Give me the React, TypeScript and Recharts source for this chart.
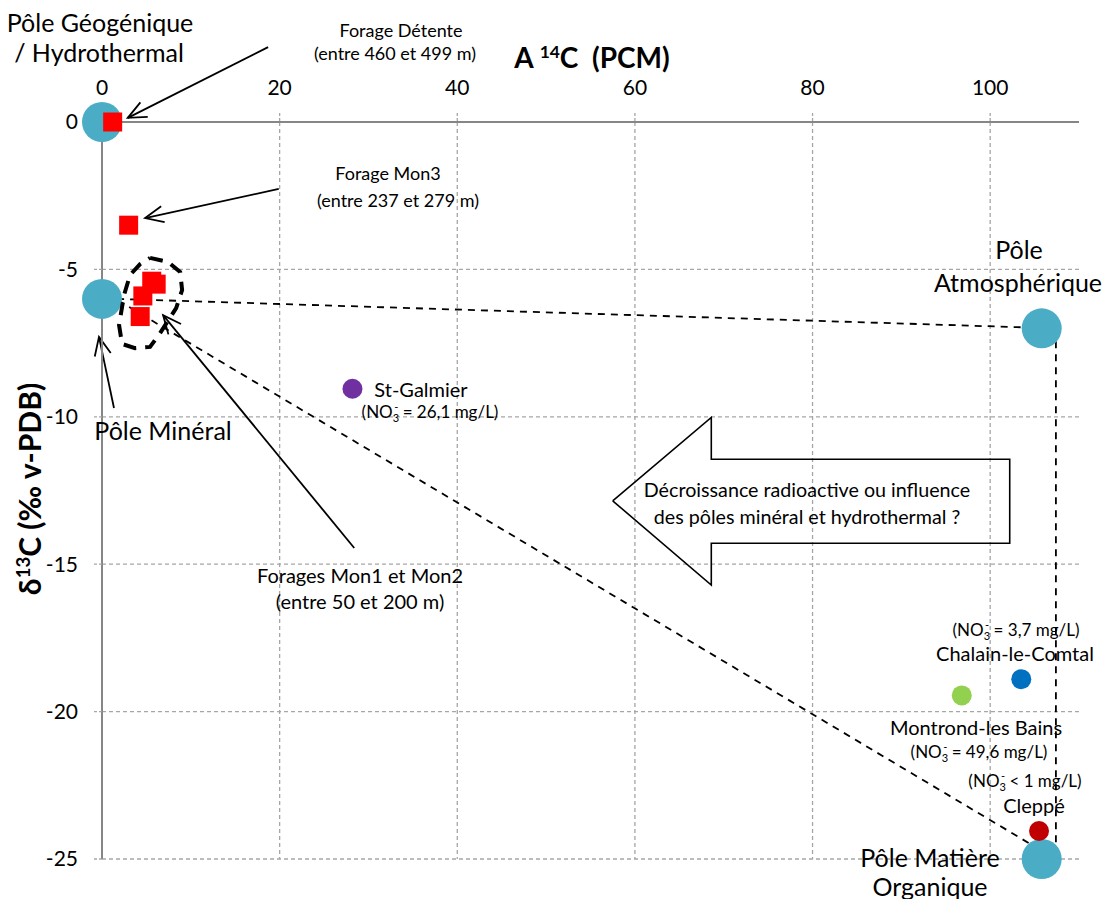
import React from "react";
import {
  ScatterChart,
  Scatter,
  XAxis,
  YAxis,
  CartesianGrid,
  ReferenceLine,
} from "recharts";

const FONT = "Lato, 'Noto Sans', sans-serif";

const xTicks = [0, 20, 40, 60, 80, 100];
const yTicks = [-25, -20, -15, -10, -5, 0];
const xGrid = [20, 40, 60, 80, 100];
const yGrid = [-25, -20, -15, -10, -5];

// pôles (gros cercles)
const poles = [
  { x: 0, y: 0 },
  { x: 0, y: -6 },
  { x: 105.8, y: -7 },
  { x: 105.8, y: -25 },
];

// forages (carrés rouges)
const forages = [
  { x: 1.2, y: 0 },
  { x: 3.0, y: -3.5 },
  { x: 5.6, y: -5.4 },
  { x: 6.1, y: -5.5 },
  { x: 4.6, y: -5.9 },
  { x: 4.3, y: -6.6 },
];

const stGalmier = [{ x: 28.2, y: -9.05 }];
const montrond = [{ x: 96.8, y: -19.45 }];
const chalain = [{ x: 103.5, y: -18.9 }];
const cleppe = [{ x: 105.5, y: -24.05 }];

// droites de mélange (pointillés)
const mixingLines = [
  [{ x: 1.7, y: -6.0 }, { x: 107.4, y: -7.0 }],
  [{ x: 107.4, y: -7.0 }, { x: 107.4, y: -25.0 }],
  [{ x: 1.8, y: -6.05 }, { x: 106.8, y: -24.9 }],
];

// flèches d'annotation
const arrows = [
  [{ x: 18.7, y: 2.54 }, { x: 2.9, y: 0.14 }],
  [{ x: 19.9, y: -2.27 }, { x: 4.85, y: -3.26 }],
  [{ x: 1.35, y: -9.7 }, { x: -0.34, y: -7.29 }],
  [{ x: 28.4, y: -14.45 }, { x: 6.88, y: -6.55 }],
];

// contour pointillé autour des forages Mon1 / Mon2
const cluster = [
  { x: 5.41, y: -4.61 },
  { x: 7.45, y: -4.75 },
  { x: 8.8, y: -5.09 },
  { x: 9.02, y: -5.7 },
  { x: 8.35, y: -6.31 },
  { x: 6.54, y: -7.16 },
  { x: 5.41, y: -7.63 },
  { x: 3.72, y: -7.67 },
  { x: 2.26, y: -7.53 },
  { x: 1.92, y: -6.89 },
  { x: 2.48, y: -5.87 },
  { x: 3.16, y: -5.19 },
  { x: 4.29, y: -4.82 },
  { x: 5.41, y: -4.61 },
];

// grande flèche "Décroissance radioactive..."
const bigArrow = [
  { x: 57.5, y: -12.85 },
  { x: 68.6, y: -10.02 },
  { x: 68.6, y: -11.44 },
  { x: 102.2, y: -11.44 },
  { x: 102.2, y: -14.29 },
  { x: 68.6, y: -14.29 },
  { x: 68.6, y: -15.71 },
  { x: 57.5, y: -12.85 },
];

const dot = (r: number, fill: string) => (p: any) =>
  <circle cx={p.cx} cy={p.cy} r={r} fill={fill} />;

const square = (p: any) => (
  <rect x={p.cx - 9.5} y={p.cy - 9.5} width={19} height={19} fill="#FF0000" />
);

const noShape = () => <g />;

function ArrowShape(props: any) {
  const { x1, y1, x2, y2 } = props;
  const a = Math.atan2(y2 - y1, x2 - x1);
  const len = 20;
  const s = 0.42;
  const p1 = [x2 - len * Math.cos(a - s), y2 - len * Math.sin(a - s)];
  const p2 = [x2 - len * Math.cos(a + s), y2 - len * Math.sin(a + s)];
  return (
    <g stroke="#000" strokeWidth={1.8} fill="none">
      <line x1={x1} y1={y1} x2={x2} y2={y2} />
      <polyline points={`${p1[0]},${p1[1]} ${x2},${y2} ${p2[0]},${p2[1]}`} />
    </g>
  );
}

function Note({
  x,
  y,
  size = 18,
  bold = false,
  children,
}: {
  x: number;
  y: number;
  size?: number;
  bold?: boolean;
  children: React.ReactNode;
}) {
  return (
    <div
      style={{
        position: "absolute",
        left: x,
        top: y,
        transform: "translate(-50%, -50%)",
        fontSize: size,
        fontWeight: bold ? 700 : 400,
        whiteSpace: "pre",
        lineHeight: 1.05,
        color: "#000",
      }}
    >
      {children}
    </div>
  );
}

const NO3 = () => (
  <span>
    NO
    <sub style={{ fontSize: "0.65em", lineHeight: 0 }}>3</sub>
    <sup style={{ fontSize: "0.65em", lineHeight: 0, marginLeft: "-0.45em" }}>-</sup>
  </span>
);

export default function App() {
  return (
    <div
      style={{
        position: "absolute",
        left: 0,
        top: 0,
        width: 1109,
        height: 899,
        background: "#fff",
        fontFamily: FONT,
      }}
    >
      <ScatterChart
        width={1109}
        height={899}
        margin={{ top: 82, right: 30, bottom: 40, left: 42 }}
      >
        <CartesianGrid
          stroke="#A6A6A6"
          strokeWidth={1.3}
          strokeDasharray="4 3"
          verticalValues={xGrid}
          horizontalValues={yGrid}
        />
        <XAxis
          type="number"
          dataKey="x"
          orientation="top"
          domain={[0, 110]}
          ticks={xTicks}
          height={40}
          axisLine={{ stroke: "#868686", strokeWidth: 2 }}
          tickLine={{ stroke: "#A6A6A6", strokeWidth: 1.3, strokeDasharray: "3 2" }}
          tickSize={9}
          tickMargin={18}
          tick={{ fontSize: 21, fill: "#000", fontFamily: FONT }}
        />
        <YAxis
          type="number"
          dataKey="y"
          domain={[-25, 0]}
          ticks={yTicks}
          width={60}
          axisLine={{ stroke: "#868686", strokeWidth: 2 }}
          tickLine={{ stroke: "#A6A6A6", strokeWidth: 1.3, strokeDasharray: "3 2" }}
          tickSize={8}
          tickMargin={16}
          tick={{ fontSize: 21, fill: "#000", fontFamily: FONT }}
        />
        <Scatter
          data={bigArrow}
          line={{ stroke: "#000", strokeWidth: 1.6 }}
          lineType="joint"
          shape={noShape}
          isAnimationActive={false}
        />
        <Scatter data={poles} shape={dot(20, "#4BACC6")} isAnimationActive={false} />
        <Scatter data={forages} shape={square} isAnimationActive={false} />
        <Scatter data={stGalmier} shape={dot(10, "#7030A0")} isAnimationActive={false} />
        <Scatter data={montrond} shape={dot(10, "#92D050")} isAnimationActive={false} />
        <Scatter data={chalain} shape={dot(10, "#0070C0")} isAnimationActive={false} />
        <Scatter data={cleppe} shape={dot(10, "#C00000")} isAnimationActive={false} />
        <Scatter
          data={cluster}
          line={{ stroke: "#000", strokeWidth: 4, strokeDasharray: "13 9" }}
          lineType="joint"
          shape={noShape}
          isAnimationActive={false}
        />
        {mixingLines.map((seg, i) => (
          <ReferenceLine
            key={"m" + i}
            segment={seg}
            stroke="#000"
            strokeWidth={1.8}
            strokeDasharray="7 6"
            ifOverflow="visible"
          />
        ))}
        {arrows.map((seg, i) => (
          <ReferenceLine
            key={"a" + i}
            segment={seg}
            ifOverflow="visible"
            shape={ArrowShape}
          />
        ))}
      </ScatterChart>

      <Note x={592} y={58} size={28} bold>
        A <sup style={{ fontSize: "0.62em", lineHeight: 0 }}>14</sup>C  (PCM)
      </Note>
      <div
        style={{
          position: "absolute",
          left: 29,
          top: 489,
          transform: "translate(-50%, -50%) rotate(-90deg)",
          fontSize: 30,
          fontWeight: 700,
          whiteSpace: "pre",
          lineHeight: 1.2,
        }}
      >
        δ<sup style={{ fontSize: "0.62em", lineHeight: 0 }}>13</sup>C (‰ v-PDB)
      </div>

      <Note x={100} y={22} size={25}>Pôle Géogénique</Note>
      <Note x={99} y={52} size={25}>/ Hydrothermal</Note>

      <Note x={401} y={30} size={18}>Forage Détente</Note>
      <Note x={395} y={53} size={18}>(entre 460 et 499 m)</Note>

      <Note x={388} y={173} size={18}>Forage Mon3</Note>
      <Note x={398} y={200} size={18}>(entre 237 et 279 m)</Note>

      <Note x={1019} y={249} size={25}>Pôle</Note>
      <Note x={1018} y={282} size={25}>Atmosphérique</Note>

      <Note x={163} y={430} size={25}>Pôle Minéral</Note>

      <Note x={421} y={389} size={20}>St-Galmier</Note>
      <Note x={430} y={412} size={17}>
        (<NO3 /> = 26,1 mg/L)
      </Note>

      <Note x={360} y={575} size={20}>Forages Mon1 et Mon2</Note>
      <Note x={360} y={601} size={20}>(entre 50 et 200 m)</Note>

      <Note x={1016} y={630} size={17}>
        (<NO3 /> = 3,7 mg/L)
      </Note>
      <Note x={1015} y={653} size={20}>Chalain-le-Comtal</Note>

      <Note x={976} y={727} size={20}>Montrond-les Bains</Note>
      <Note x={979} y={752} size={17}>
        (<NO3 /> = 49,6 mg/L)
      </Note>

      <Note x={1025} y={781} size={17}>
        (<NO3 /> &lt; 1 mg/L)
      </Note>
      <Note x={1034} y={805} size={20}>Cleppé</Note>

      <Note x={930} y={857} size={25}>Pôle Matière</Note>
      <Note x={930} y={886} size={25}>Organique</Note>

      <Note x={807} y={490} size={19.7}>Décroissance radioactive ou influence</Note>
      <Note x={807} y={517} size={19.7}>des pôles minéral et hydrothermal ?</Note>
    </div>
  );
}
